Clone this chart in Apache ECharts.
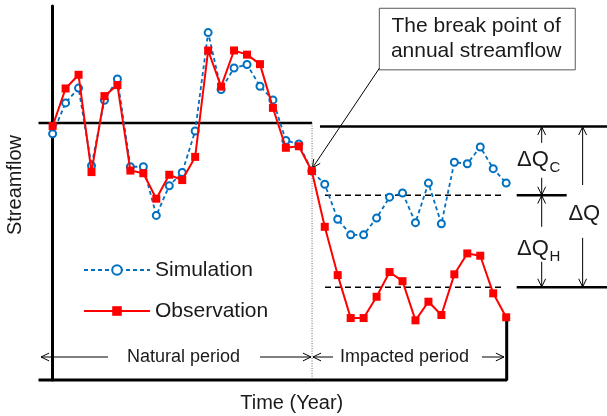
<!DOCTYPE html>
<html><head><meta charset="utf-8">
<script src="https://cdn.jsdelivr.net/npm/echarts@6/dist/echarts.min.js"></script>
<style>html,body{margin:0;padding:0;background:#fff}#c{width:607px;height:416px}</style>
</head><body><div id="c"></div>
<script>
// ---- data (x = year index, y = streamflow, arbitrary units) ----
const years = [0,1,2,3,4,5,6,7,8,9,10,11,12,13,14,15,16,17,18,19,20,21,22,23,24,25,26,27,28,29,30,31,32,33,34,35];
const observation = [66.8,76.7,80.3,54.7,74.7,77.6,55.1,54.4,47.7,54.0,52.6,58.7,86.7,77.2,86.7,85.6,83.1,71.6,61.1,61.5,55.0,
                     40.3,27.6,16.3,16.3,21.9,28.4,26.0,15.7,20.6,17.1,27.8,33.3,32.7,22.8,16.5];
const simulation  = [64.8,72.9,76.8,56.4,73.6,79.2,56.1,56.1,43.3,51.1,54.6,65.5,91.4,76.4,82.1,83.0,77.3,73.7,63.0,62.1,55.0,
                     51.5,42.3,38.2,38.2,42.6,48.1,49.2,41.4,51.8,41.1,57.3,56.9,61.3,55.6,51.8];
const breakYear = 20.02;
const naturalMean = 67.6;     // natural period mean streamflow
const refTop = 66.7;          // reference level for impacted comparison
const simImpactedMean = 48.6; // simulated mean in impacted period
const obsImpactedMean = 24.4; // observed mean in impacted period
const xMin = -1.09, xMax = 42.78, yMax = 98.4;

// annotation arrows: [x1, y1, x2, y2, headAtEnd, headAtStart]
const arrows = [
  [37.74,62.4,37.74,66.6,1,0],[37.74,53.2,37.74,48.7,1,0],
  [37.74,40.3,37.74,48.55,1,0],[37.74,31.1,37.74,24.5,1,0],
  [40.9,51.3,40.9,66.6,1,0],[40.9,37.4,40.9,24.5,1,0],
  [25.21,82.0,20.05,55.8,1,0],
  [4.27,6.05,-0.895,6.05,1,0],[16.0,6.05,19.94,6.05,1,0],
  [21.64,6.05,20.09,6.05,1,0],[33.13,6.05,34.83,6.05,1,0]
];
const labelPos = [[10.1,6.05],[27.15,6.05],[32.68,92.97],[32.68,86.4],[35.84,57.9],[35.84,34.5],[41.03,43.7],[18.45,-6.05],[-2.85,51.3]];
const labelText = ['Natural period','Impacted period','The break point of','annual streamflow',
                   'ΔQ|C','ΔQ|H','ΔQ','Time (Year)','Streamflow'];
const boxCorners = [[25.21,97.8],[40.33,81.6]];

const FONT = '"Liberation Sans", Arial, sans-serif';
const chart = echarts.init(document.getElementById('c'), null, {renderer:'canvas'});

function headPts(p, q){ // head at q, coming from p
  const dx=q[0]-p[0], dy=q[1]-p[1], L=Math.hypot(dx,dy)||1;
  const ux=dx/L, uy=dy/L, len=9, ang=0.45;
  const out=[];
  for(const s of [1,-1]){
    const c=Math.cos(s*ang), sn=Math.sin(s*ang);
    const rx=ux*c-uy*sn, ry=ux*sn+uy*c;
    out.push([q[0]-rx*len, q[1]-ry*len]);
  }
  return [out[0], q, out[1]];
}

const lineSeg = (name, pts, style, z) => ({
  type:'line', name, data:pts, symbol:'none', clip:false, silent:true, z:z||2,
  lineStyle:style, animation:false, legendHoverLink:false
});

chart.setOption({
  animation:false,
  backgroundColor:'#fff',
  grid:{left:38.5, right:0, top:6, bottom:36},
  xAxis:{type:'value', min:xMin, max:xMax, axisLine:{show:false}, axisTick:{show:false}, axisLabel:{show:false}, splitLine:{show:false}},
  yAxis:{type:'value', min:0, max:yMax, axisLine:{show:true, lineStyle:{color:'#000', width:3}}, axisTick:{show:false}, axisLabel:{show:false}, splitLine:{show:false}},
  legend:{
    data:['Simulation','Observation'], orient:'vertical', left:83, top:258, padding:0, itemWidth:66, itemHeight:12, itemGap:17,
    textStyle:{fontFamily:FONT, fontSize:21, color:'#1a1a1a', lineHeight:24}
  },
  series:[
    lineSeg('frame', [[xMin,0],[35.04,0],[35.04,15.6]], {color:'#000', width:3}, 1),
    lineSeg('natMean', [[xMin,naturalMean],[breakYear,naturalMean]], {color:'#000', width:2.5}),
    lineSeg('topRef', [[20.63,refTop],[xMax,refTop]], {color:'#000', width:2.5}),
    lineSeg('simMean', [[21.02,simImpactedMean],[34.9,simImpactedMean]], {color:'#000', width:1.5, type:[6,4]}),
    lineSeg('obsMean', [[21.02,obsImpactedMean],[34.9,obsImpactedMean]], {color:'#000', width:1.5, type:[6,4]}),
    lineSeg('midRef', [[35.81,simImpactedMean],[39.67,simImpactedMean]], {color:'#000', width:2.5}),
    lineSeg('botRef', [[35.81,obsImpactedMean],[xMax,obsImpactedMean]], {color:'#000', width:2.5}),
    lineSeg('breakLine', [[breakYear,naturalMean],[breakYear,0]], {color:'#666', width:1, type:[1,1.5]}),
    {
      type:'custom', name:'box', clip:false, silent:true, z:3,
      data:[[boxCorners[0][0],boxCorners[0][1],boxCorners[1][0],boxCorners[1][1]]],
      encode:{x:[0,2], y:[1,3]},
      renderItem:(params, api)=>{
        const a=api.coord([api.value(0),api.value(1)]), b=api.coord([api.value(2),api.value(3)]);
        return {type:'rect', shape:{x:a[0],y:a[1],width:b[0]-a[0],height:b[1]-a[1]}, style:{fill:'#fff', stroke:'#595959', lineWidth:1}};
      }
    },
    {
      type:'custom', name:'arrows', clip:false, silent:true, z:3,
      data:arrows, encode:{x:[0,2], y:[1,3]},
      renderItem:(params, api)=>{
        const p=api.coord([api.value(0),api.value(1)]), q=api.coord([api.value(2),api.value(3)]);
        const ch=[{type:'line', shape:{x1:p[0],y1:p[1],x2:q[0],y2:q[1]}, style:{stroke:'#000', lineWidth:1}}];
        if(api.value(4)) ch.push({type:'polyline', shape:{points:headPts(p,q)}, style:{stroke:'#000', lineWidth:1, fill:null}});
        if(api.value(5)) ch.push({type:'polyline', shape:{points:headPts(q,p)}, style:{stroke:'#000', lineWidth:1, fill:null}});
        return {type:'group', children:ch};
      }
    },
    {
      type:'custom', name:'labels', clip:false, silent:true, z:4,
      data:labelPos, encode:{x:0, y:1},
      renderItem:(params, api)=>{
        const i=params.dataIndex, c=api.coord([api.value(0),api.value(1)]);
        const t=labelText[i];
        if(i>=4 && i<=6){
          const parts=t.split('|');
          const size=22, w=1.446*size;
          const ch=[{type:'text', x:c[0], y:c[1], style:{text:parts[0], fill:'#1a1a1a', font:size+'px '+FONT,
                     align:(i===6)?'center':'left', verticalAlign:'middle'}}];
          if(parts[1]) ch.push({type:'text', x:c[0]+w+0.5, y:c[1]+8, style:{text:parts[1], fill:'#1a1a1a', font:'15px '+FONT, align:'left', verticalAlign:'middle'}});
          return {type:'group', children:ch};
        }
        let size=18;
        if(i===2||i===3) size=21;
        if(i===7||i===8) size=20;
        return {type:'text', x:c[0], y:c[1], rotation:(i===8)?Math.PI/2:0,
          style:{text:t, fill:'#1a1a1a', font:size+'px '+FONT, align:'center', verticalAlign:'middle'}};
      }
    },
    {
      type:'line', name:'Simulation', data:simulation.map((v,i)=>[years[i],v]), z:5,
      symbol:'emptyCircle', symbolSize:7, showAllSymbol:true,
      itemStyle:{color:'#0070C0', borderWidth:1.8},
      lineStyle:{color:'#0070C0', width:1.8, type:[4,3]}
    },
    {
      type:'line', name:'Observation', data:observation.map((v,i)=>[years[i],v]), z:6,
      symbol:'rect', symbolSize:8, showAllSymbol:true,
      itemStyle:{color:'#FF0000'},
      lineStyle:{color:'#FF0000', width:2}
    }
  ]
});
</script></body></html>
